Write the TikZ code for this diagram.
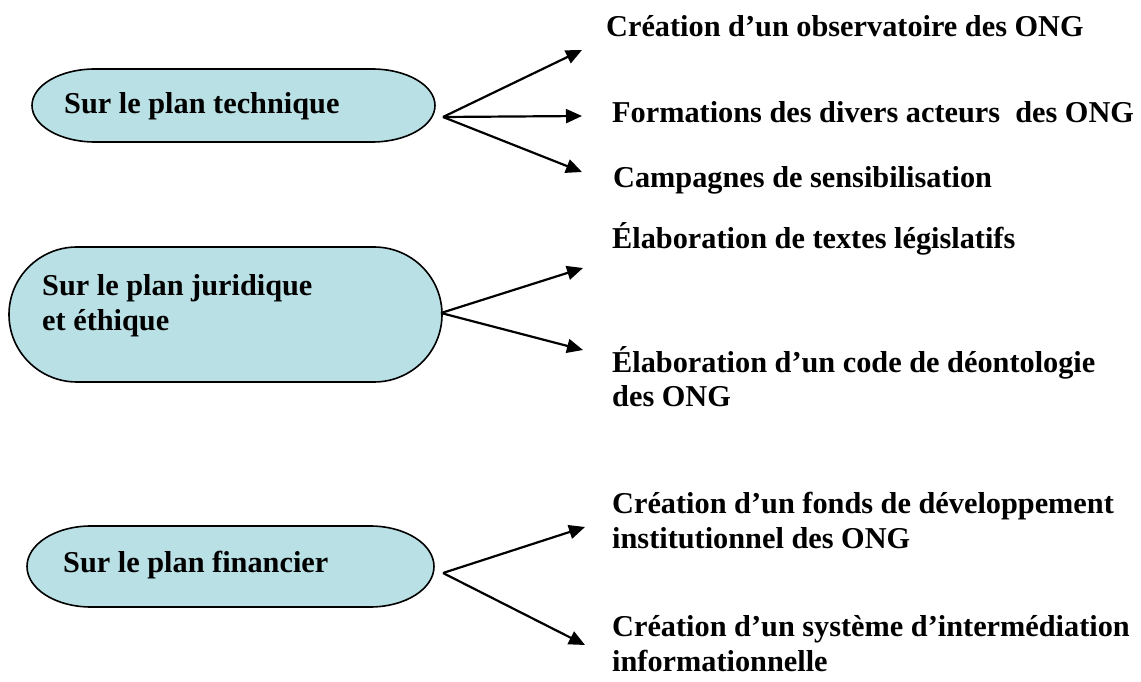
\documentclass[tikz,border=0pt]{standalone}
\usepackage{fontspec}
\setmainfont{Liberation Serif}
\usetikzlibrary{arrows.meta}
\definecolor{boxfill}{RGB}{185,224,228}
\newcommand\termbox[3]{%
  \draw[boxline] ([xshift=#2]#1.north west) -- ([xshift=-#2]#1.north east)
    arc[start angle=90,end angle=-90,x radius=#2,y radius=#3]
    -- ([xshift=#2]#1.south west)
    arc[start angle=270,end angle=90,x radius=#2,y radius=#3] -- cycle;}
\begin{document}
\begin{tikzpicture}[x=1pt,y=1pt,
  boxshape/.style={rectangle,draw=none,inner sep=0pt,outer sep=0pt},
  boxline/.style={draw=black,line width=1.6pt,fill=boxfill},
  txt/.style={font=\fontsize{30.3}{35}\selectfont\bfseries,inner sep=0pt,anchor=base west},
  arr/.style={line width=2.2pt,-{Triangle[length=16pt,width=14pt]}}]
\useasboundingbox[fill=white] (0,0) rectangle (1141,681);
% boxes
\node[boxshape,minimum width=403pt,minimum height=73pt] (b1) at (233.5,575.5) {};
\node[boxshape,minimum width=433pt,minimum height=135pt] (b2) at (225.5,366.5) {};
\node[boxshape,minimum width=407pt,minimum height=81pt] (b3) at (230.5,114.5) {};
\termbox{b1}{63pt}{36.5pt}
\termbox{b2}{68pt}{67.5pt}
\termbox{b3}{64pt}{40.5pt}
\node[txt] (t1) at (64,567) {Sur le plan technique};
\node[txt] (t2a) at (42,385) {Sur le plan juridique};
\node[txt] (t2b) at (42,350) {et éthique};
\node[txt] (t3) at (63,109) {Sur le plan financier};
% right texts
\node[txt] (r1) at (606,644) {Création d’un observatoire des ONG};
\node[txt] (r2) at (612,558) {Formations des divers acteurs\ \ des ONG};
\node[txt] (r3) at (613,493) {Campagnes de sensibilisation};
\node[txt] (r4) at (612,432) {Élaboration de textes législatifs};
\node[txt] (r5a) at (612,308) {Élaboration d’un code de déontologie};
\node[txt] (r5b) at (612,274) {des ONG};
\node[txt] (r6a) at (612,168) {Création d’un fonds de développement};
\node[txt] (r6b) at (612,133) {institutionnel des ONG};
\node[txt] (r7a) at (612,45) {Création d’un système d’intermédiation};
\node[txt] (r7b) at (612,10) {informationnelle};
% origins and tips
\coordinate (o1) at (443,564);
\coordinate (o2) at (441,368);
\coordinate (o3) at (443,108);
\coordinate (p11) at (582,631);
\coordinate (p12) at (582,565);
\coordinate (p13) at (582,509);
\coordinate (p21) at (583,413);
\coordinate (p22) at (583,331);
\coordinate (p31) at (585,154);
\coordinate (p32) at (585,36);
\draw[arr] (o1) -- (p11);
\draw[arr] (o1) -- (p12);
\draw[arr] (o1) -- (p13);
\draw[arr] (o2) -- (p21);
\draw[arr] (o2) -- (p22);
\draw[arr] (o3) -- (p31);
\draw[arr] (o3) -- (p32);
\end{tikzpicture}
\end{document}
